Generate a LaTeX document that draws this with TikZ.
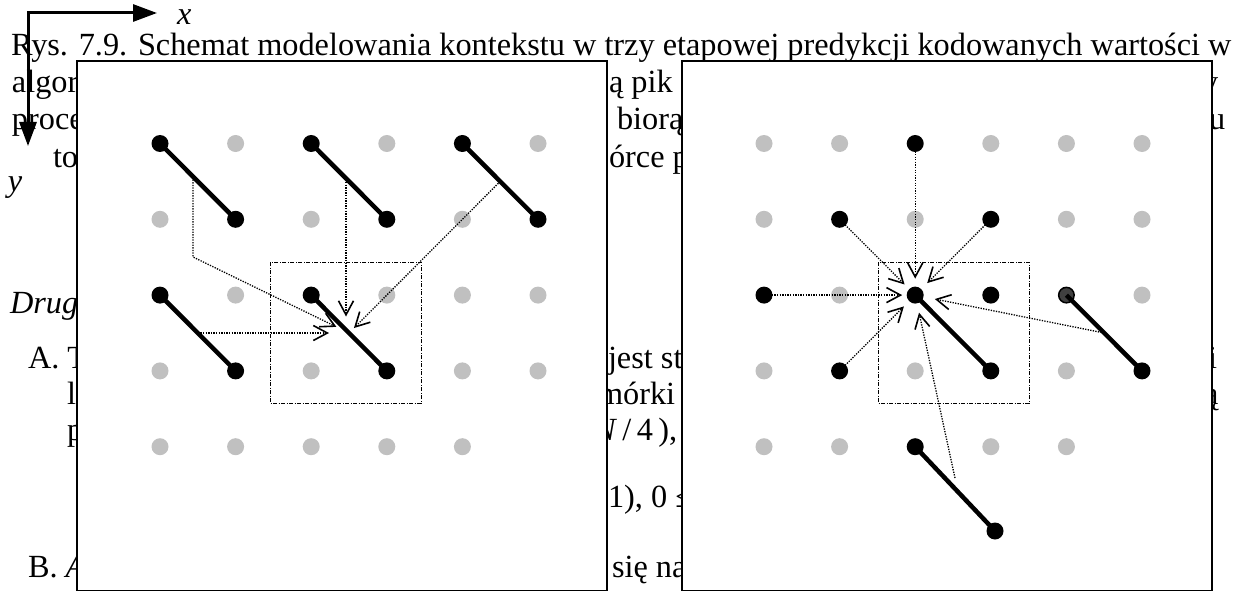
\documentclass[tikz,border=0pt]{standalone}
\usepackage{fontspec}
\setmainfont{Liberation Serif}
\usetikzlibrary{arrows.meta,calc}
\definecolor{dotgray}{RGB}{192,192,192}
\definecolor{darkdot}{RGB}{64,64,64}
\tikzset{
 txt/.style={anchor=base west,inner sep=0pt,outer sep=0pt,font=\fontsize{32.3}{36}\selectfont},
 itxt/.style={anchor=base west,inner sep=0pt,outer sep=0pt,font=\fontsize{32.3}{36}\selectfont\itshape},
 axisline/.style={line width=3pt,{Triangle[length=24pt,width=17pt]}-{Triangle[length=24pt,width=17pt]}},
 panel/.style={draw=black,fill=white,line width=1.5pt},
 gdot/.style={circle,fill=dotgray,inner sep=0pt,minimum size=17pt},
 bdot/.style={circle,fill=black,inner sep=0pt,minimum size=17pt},
 ddot/.style={circle,fill=darkdot,draw=black,line width=1.5pt,inner sep=0pt,minimum size=15.5pt},
 link/.style={line width=4.5pt},
 win/.style={line width=0.9pt,dash pattern=on 4pt off 1.5pt on 1pt off 1.5pt},
 ctx/.style={line width=1.3pt,dash pattern=on 1.3pt off 1.3pt,-{Straight Barb[length=14pt,width=15pt,line width=1.6pt]}},
}
\begin{document}
\begin{tikzpicture}[x=1pt,y=-1pt]
\useasboundingbox[fill=white] (0,0) rectangle (1247,591);
% background text
\node[txt] (t1) at (11,56) {Rys. 7.9. Schemat modelowania kontekstu w trzy etapowej predykcji kodowanych wartości w};
\node[txt] (t2a) at (12,93) {algor};
\node[txt] (t2b) at (609,93) {ą pik};
\node[txt] (t2c) at (1202,93) {y};
\node[txt] (t3a) at (12,130) {proce};
\node[txt] (t3b) at (617,130) {biorą};
\node[txt] (t3c) at (1209,130) {u};
\node[txt] (t4a) at (53,167) {to};
\node[txt] (t4b) at (609,167) {órce p};
\node[itxt] (ylab) at (8,191) {y};
\node[itxt] (xlab) at (177,25) {x};
\node[itxt] (t5) at (10,313) {Drug};
\node[txt] (t6a) at (28,368) {A. T};
\node[txt] (t6b) at (608,368) {jest st};
\node[txt] (t6c) at (1208,368) {i};
\node[txt] (t7a) at (67,404) {l};
\node[txt] (t7b) at (598,404) {mórki};
\node[txt] (t7c) at (1204,404) {ą};
\node[txt] (t8a) at (67,440) {p};
\node[txt] (t8b) at (594,440) {\textit{N}\,/\,4\,),};
\node[txt] (t9b) at (608,507) {1), 0 ≤};
\node[txt] (t10a) at (28,577) {B. \textit{A}};
\node[txt] (t10b) at (612,577) {się na};
% axes
\coordinate (ax-x) at (157,13);
\coordinate (ax-o) at (28,13);
\coordinate (ax-y) at (28,146);
\draw[axisline] (ax-x) -- (ax-o) -- (ax-y);
% panels
\draw[panel] (77,61) rectangle (607,591);
\draw[panel] (682,61) rectangle (1212,591);
% left panel dots
\foreach \r/\c in {1/2,1/4,1/6,2/1,2/3,2/5,3/2,3/4,3/5,3/6,4/1,4/3,4/5,4/6,5/1,5/2,5/3,5/4,5/5}
  \node[gdot] (L-\r-\c) at ({160+75.6*(\c-1)},{143.5+75.8*(\r-1)}) {};
\foreach \r/\c in {1/1,1/3,1/5,2/2,2/4,2/6,3/1,3/3,4/2,4/4}
  \node[bdot] (L-\r-\c) at ({160+75.6*(\c-1)},{143.5+75.8*(\r-1)}) {};
% right panel dots
\foreach \r/\c in {1/1,1/2,1/4,1/5,1/6,2/1,2/3,2/5,2/6,3/2,3/6,4/1,4/3,4/5,5/1,5/2,5/4,5/5}
  \node[gdot] (R-\r-\c) at ({764+75.6*(\c-1)},{143.5+75.8*(\r-1)}) {};
\foreach \r/\c in {1/3,2/2,2/4,3/1,3/3,3/4,4/2,4/4,4/6,5/3}
  \node[bdot] (R-\r-\c) at ({764+75.6*(\c-1)},{143.5+75.8*(\r-1)}) {};
\node[ddot] (R-3-5) at ({764+75.6*4},{143.5+75.8*2}) {};
\node[bdot] (R-x) at (995,531) {};
% thick links
\draw[link] (L-1-1.center) -- (L-2-2.center);
\draw[link] (L-1-3.center) -- (L-2-4.center);
\draw[link] (L-1-5.center) -- (L-2-6.center);
\draw[link] (L-3-1.center) -- (L-4-2.center);
\draw[link] (L-3-3.center) -- (L-4-4.center);
\draw[link] (R-3-3.center) -- (R-4-4.center);
\draw[link] (R-3-5.center) -- (R-4-6.center);
\draw[link] (R-5-3.center) -- (R-x.center);
% context windows
\draw[win] (270,262) rectangle (421,403);
\draw[win] (878,262) rectangle (1029,403);
% left panel arrows
\coordinate (LT) at ($(L-3-3.center)!0.5!(L-4-4.center)$);
\coordinate (L-s1) at (193,177);
\coordinate (L-k1) at (193,257);
\coordinate (L-s2) at (346,182);
\coordinate (L-s3) at ($(L-1-5.center)!0.5!(L-2-6.center)$);
\coordinate (L-s4) at ($(L-3-1.center)!0.5!(L-4-2.center)$);
\draw[ctx,shorten >=14pt] (L-s1) -- (L-k1) -- (LT);
\draw[ctx,shorten >=16.5pt] (L-s2) -- (L-s2 |- LT);
\draw[ctx,shorten >=7pt] (L-s3) -- (LT);
\draw[ctx,shorten >=20pt] (L-s4) -- (LT);
% right panel arrows
\coordinate (R-s6) at ($(R-3-5.center)!0.5!(R-4-6.center)$);
\coordinate (R-s7) at (955,478);
\draw[ctx,shorten >=16.5pt] (R-1-3.center) -- (R-3-3.center);
\draw[ctx,shorten >=15pt] (R-2-2.center) -- (R-3-3.center);
\draw[ctx,shorten >=17pt] (R-2-4.center) -- (R-3-3.center);
\draw[ctx,shorten >=13pt] (R-3-1.center) -- (R-3-3.center);
\draw[ctx,shorten >=16pt] (R-4-2.center) -- (R-3-3.center);
\draw[ctx,shorten >=20pt] (R-s6) -- (R-3-3.center);
\draw[ctx,shorten >=18pt] (R-s7) -- (R-3-3.center);
\end{tikzpicture}
\end{document}
